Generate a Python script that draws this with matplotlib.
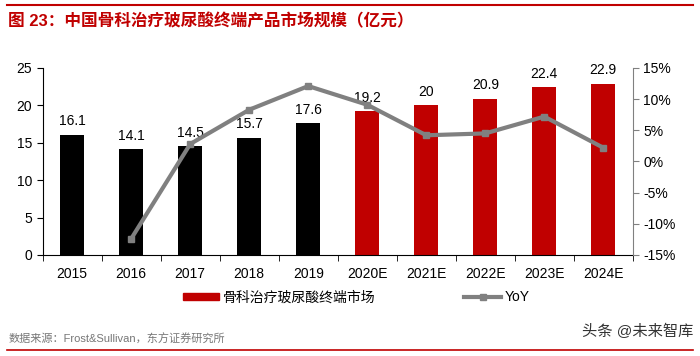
import matplotlib.pyplot as plt
import numpy as np
from matplotlib.patches import Patch
from matplotlib.lines import Line2D

plt.rcParams['font.family'] = ['Liberation Sans', 'Noto Sans CJK SC', 'DejaVu Sans']

# data
years = ['2015', '2016', '2017', '2018', '2019', '2020E', '2021E', '2022E', '2023E', '2024E']
market = [16.1, 14.1, 14.5, 15.7, 17.6, 19.2, 20, 20.9, 22.4, 22.9]
yoy = [None, -12.4, 2.8, 8.3, 12.1, 9.1, 4.2, 4.5, 7.2, 2.2]
is_forecast = [False] * 5 + [True] * 5

red = '#C00000'
grey = '#808080'

fig = plt.figure(figsize=(7.0, 3.56), dpi=100)
ax = fig.add_axes([0.061, 0.284, 0.843, 0.525])
x = np.arange(len(years))
colors = [red if f else 'black' for f in is_forecast]
ax.bar(x, market, width=0.41, color=colors, zorder=2)
for xi, v in zip(x, market):
    ax.text(xi, v + 0.9, f'{v:g}', ha='center', va='bottom', fontsize=10, zorder=5)

ax.set_xlim(-0.5, len(years) - 0.5)
ax.set_ylim(0, 25)
ax.set_yticks(range(0, 26, 5))
ax.set_xticks(x)
ax.set_xticklabels(years, fontsize=10)
ax.set_xticks(np.arange(-0.5, len(years), 1), minor=True)
ax.tick_params(axis='x', which='major', length=0, pad=9)
ax.tick_params(axis='x', which='minor', length=4, direction='out', color='black')
ax.tick_params(axis='y', labelsize=10, length=4, direction='out')
for s in ['top', 'right']:
    ax.spines[s].set_visible(False)

ax2 = ax.twinx()
yx = [xi for xi, v in zip(x, yoy) if v is not None]
yv = [v for v in yoy if v is not None]
ax2.plot(yx, yv, color=grey, lw=3, marker='s', ms=5, zorder=4)
ax2.set_ylim(-15, 15)
ax2.set_yticks(range(-15, 16, 5))
ax2.set_yticklabels([f'{t}%' for t in range(-15, 16, 5)], fontsize=10)
ax2.tick_params(axis='y', length=4, direction='out', color=grey)
for s in ['top', 'left', 'bottom']:
    ax2.spines[s].set_visible(False)
ax2.spines['right'].set_color(grey)

# legend
h1 = Patch(color=red)
h2 = Line2D([], [], color=grey, lw=3, marker='s', ms=4)
fig.legend([h1, h2], ['骨科治疗玻尿酸终端市场', 'YoY'], loc='center left',
           bbox_to_anchor=(0.261, 0.165), ncol=2, frameon=False, fontsize=10,
           columnspacing=6.4, handlelength=2.6, handleheight=0.45,
           handletextpad=0.3, borderpad=0, borderaxespad=0)

# title, lines, source
fig.add_artist(Line2D([0.01, 0.99], [0.985, 0.985], color=red, lw=1.5))
fig.text(0.012, 0.94, '图 23：中国骨科治疗玻尿酸终端产品市场规模（亿元）', color=red, fontsize=12,
         fontweight='bold', va='center', ha='left')
fig.add_artist(Line2D([0.01, 0.99], [0.017, 0.017], color=red, lw=1.2))
fig.text(0.012, 0.048, '数据来源：Frost&Sullivan，东方证券研究所', color='#777777', fontsize=8,
         va='center', ha='left')
fig.text(0.99, 0.07, '头条 @未来智库', color='#333333', fontsize=11, va='center', ha='right')

fig.savefig('out.png', dpi=100)
